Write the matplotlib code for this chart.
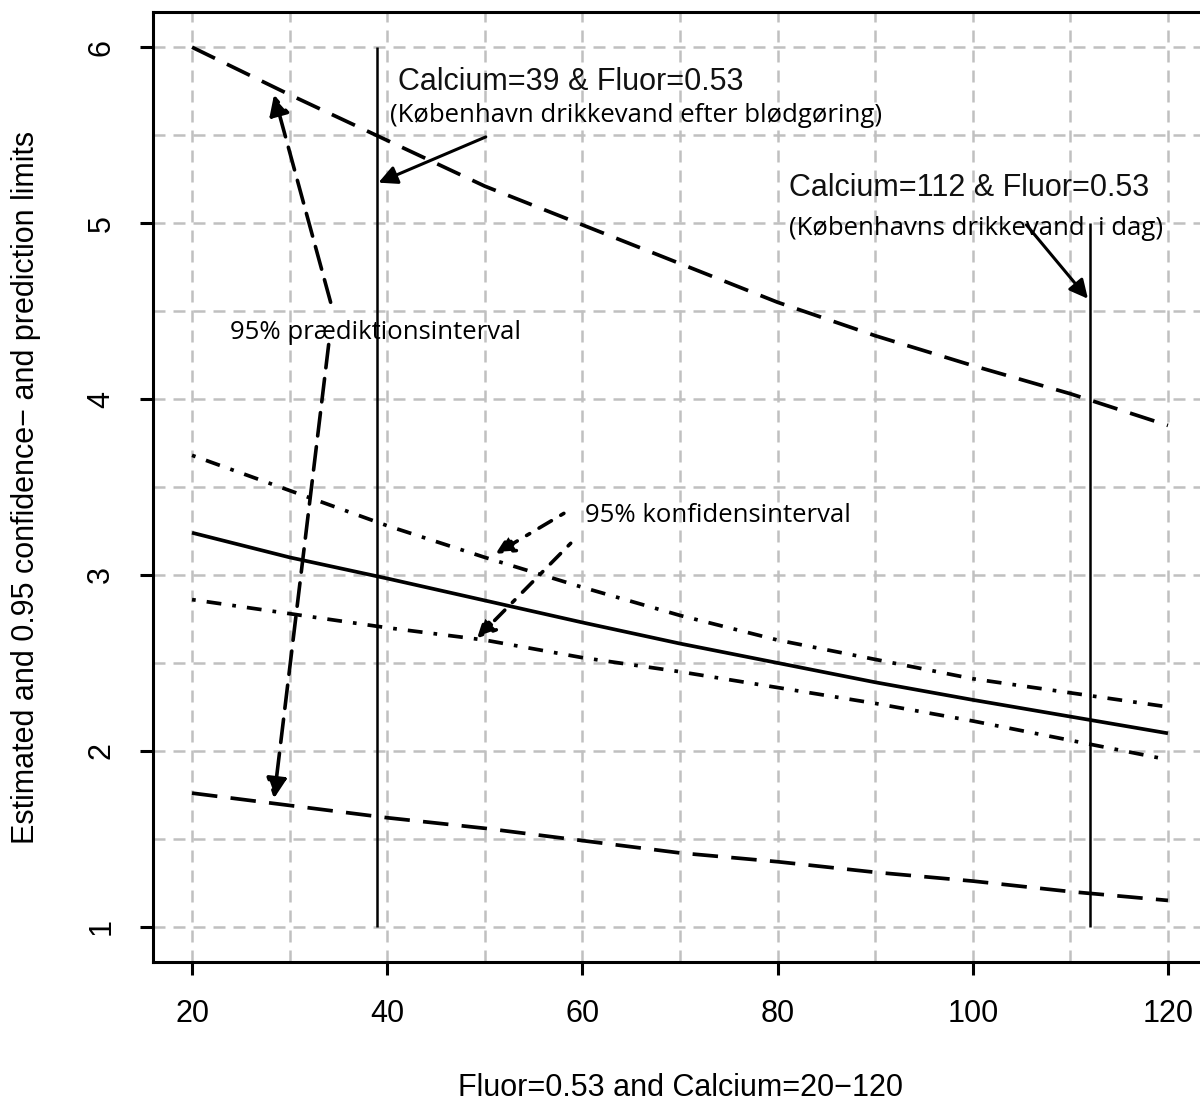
import numpy as np
import matplotlib.pyplot as plt

# Estimated mean and 0.95 confidence / prediction limits vs. calcium (fluor fixed at 0.53)

calcium = [20, 30, 40, 50, 60, 70, 80, 90, 100, 110, 120]
fit = [3.24, 3.10, 2.98, 2.855, 2.73, 2.61, 2.50, 2.39, 2.29, 2.195, 2.10]
conf_upper = [3.68, 3.48, 3.28, 3.10, 2.93, 2.77, 2.63, 2.52, 2.41, 2.33, 2.25]
conf_lower = [2.86, 2.78, 2.70, 2.63, 2.53, 2.45, 2.36, 2.27, 2.17, 2.06, 1.95]
pred_upper = [6.00, 5.73, 5.47, 5.21, 4.99, 4.77, 4.55, 4.36, 4.19, 4.03, 3.85]
pred_lower = [1.76, 1.69, 1.62, 1.56, 1.49, 1.42, 1.37, 1.31, 1.26, 1.20, 1.15]

ref_calcium = [39, 112]
ref_top = [6, 5]

x_ticks = [20, 40, 60, 80, 100, 120]
y_ticks = [1, 2, 3, 4, 5, 6]

arial = "Liberation Sans"
calibri = "Open Sans"

fig = plt.figure(figsize=(12, 11.02), dpi=100)
ax = fig.add_axes([153 / 1200, 140 / 1102, 1054 / 1200, 950 / 1102])

ax.set_xlim(16, 124)
ax.set_ylim(0.8, 6.2)

# grid on every 10 / 0.5 like the original
ax.set_xticks(x_ticks)
ax.set_xticks(np.arange(30, 120, 20), minor=True)
ax.set_yticks(y_ticks)
ax.set_yticks(np.arange(1.5, 6, 1), minor=True)
ax.grid(which="both", color="#c0c0c0", linewidth=1.8, linestyle=(0, (4.8, 3.2)))
ax.set_axisbelow(True)

ax.set_xticklabels([str(v) for v in x_ticks], fontsize=22, family=arial)
ax.set_yticklabels([str(v) for v in y_ticks], fontsize=22, family=arial,
                   rotation=90, va="center")
ax.tick_params(which="major", length=9.4, width=2.2, pad=17)
ax.tick_params(which="minor", length=0)
for s in ["left", "top", "bottom", "right"]:
    ax.spines[s].set_linewidth(2.2)

lw = 2.66
ax.plot(calcium, fit, color="black", lw=lw, solid_capstyle="butt")
ax.plot(calcium, conf_upper, color="black", lw=lw, dashes=(1, 3, 4, 3))
ax.plot(calcium, conf_lower, color="black", lw=lw, dashes=(1, 3, 4, 3))
ax.plot(calcium, pred_upper, color="black", lw=lw, dashes=(6.9, 3.6))
ax.plot(calcium, pred_lower, color="black", lw=lw, dashes=(6.9, 3.6))

ax.vlines(ref_calcium, 1, ref_top, color="black", lw=1.8)

# annotations
ax.text(41.1, 5.80, "Calcium=39 & Fluor=0.53", fontsize=22, family=arial,
        color="#111111", ha="left", va="center")
ax.text(40.3, 5.61, "(København drikkevand efter blødgøring)", fontsize=18.5,
        family=calibri, ha="left", va="center")
ax.text(81.2, 5.20, "Calcium=112 & Fluor=0.53", fontsize=22, family=arial,
        color="#111111", ha="left", va="center")
ax.text(81.2, 4.97, "(Københavns drikkevand  i dag)", fontsize=18.5,
        family=calibri, ha="left", va="center")
ax.text(23.9, 4.38, "95% prædiktionsinterval", fontsize=18.5,
        family=calibri, ha="left", va="center")
ax.text(60.3, 3.34, "95% konfidensinterval", fontsize=18.5,
        family=calibri, ha="left", va="center")

solid_arrow = dict(arrowstyle="-|>", color="black", lw=2.2, mutation_scale=28,
                   shrinkA=0, shrinkB=0)
ax.annotate("", xy=(39.1, 5.23), xytext=(50.1, 5.49), arrowprops=solid_arrow)
ax.annotate("", xy=(111.8, 4.57), xytext=(105.5, 4.99), arrowprops=solid_arrow)

pred_arrow = dict(arrowstyle="-|>", color="black", lw=2.6, mutation_scale=30,
                  shrinkA=0, shrinkB=0, linestyle=(0, (6.5, 3)))
ax.annotate("", xy=(28.4, 5.73), xytext=(34.2, 4.55), arrowprops=pred_arrow)
ax.annotate("", xy=(28.4, 1.73), xytext=(34.0, 4.31), arrowprops=pred_arrow)

conf_arrow = dict(arrowstyle="-|>", color="black", lw=2.6, mutation_scale=28,
                  shrinkA=0, shrinkB=0, linestyle=(0, (1, 3, 4, 3)))
ax.annotate("", xy=(51.1, 3.12), xytext=(58.1, 3.35), arrowprops=conf_arrow)
ax.annotate("", xy=(49.2, 2.64), xytext=(58.8, 3.18), arrowprops=conf_arrow)

fig.text(681 / 1200, 1 - 1088 / 1102, "Fluor=0.53 and Calcium=20\u2212120",
         fontsize=22, family=arial, ha="center", va="center")
fig.text(26 / 1200, 1 - 487 / 1102,
         "Estimated and 0.95 confidence\u2212 and prediction limits",
         fontsize=22, family=arial, ha="center", va="center", rotation=90)

fig.savefig("out.png", dpi=100)
